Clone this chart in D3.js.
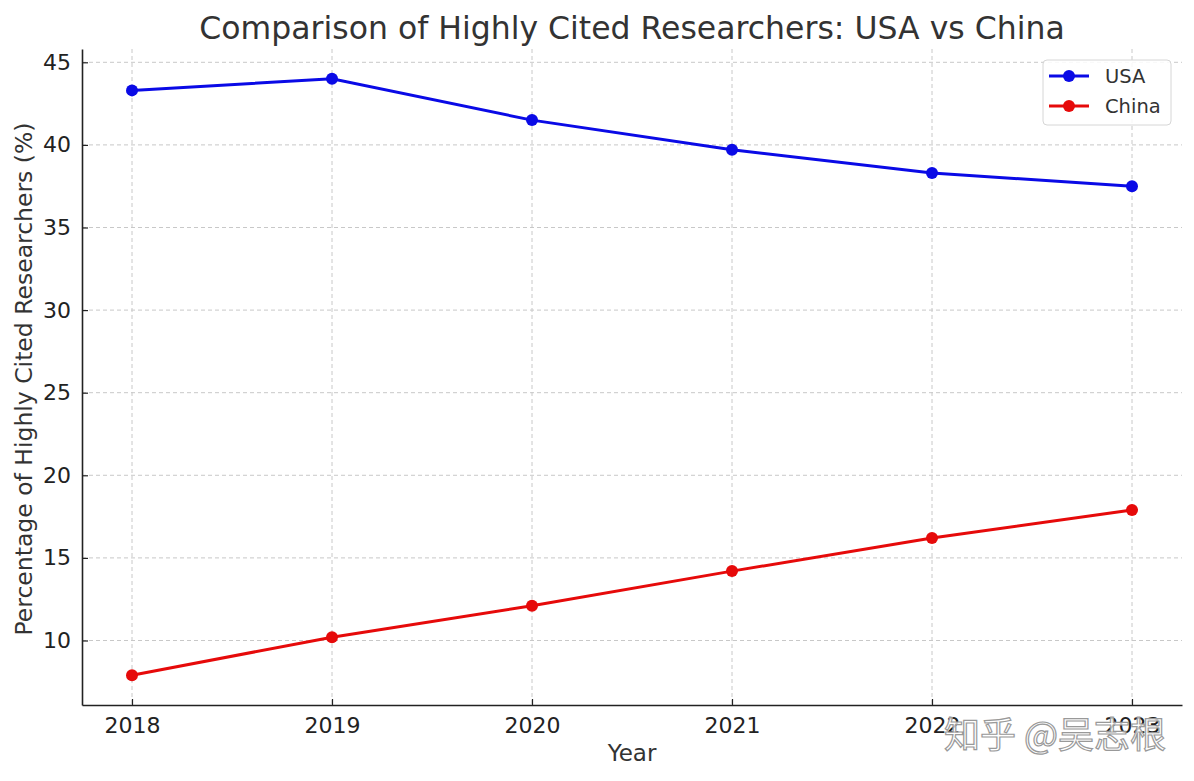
<!DOCTYPE html>
<html>
<head>
<meta charset="utf-8">
<script src="https://cdn.jsdelivr.net/npm/d3@7"></script>
<style>
  body { margin: 0; background: #fff; }
  svg text { font-family: "DejaVu Sans", sans-serif; }
</style>
</head>
<body>
<div id="chart"></div>
<script>
// data
const years = [2018, 2019, 2020, 2021, 2022, 2023];
const usaValues = [43.3, 44.0, 41.5, 39.7, 38.3, 37.5];
const chinaValues = [7.9, 10.2, 12.1, 14.2, 16.2, 17.9];
const yTicks = [10, 15, 20, 25, 30, 35, 40, 45];
const seriesNames = ["USA", "China"];
const seriesColors = ["#0a0ae6", "#e60a0a"];

const W = 1194, H = 781;
const margin = {top: 49, right: 12, bottom: 76, left: 82};
const width = W - margin.left - margin.right,
      height = H - margin.top - margin.bottom;

const svg = d3.select("#chart").append("svg")
    .attr("width", W).attr("height", H);

const g = svg.append("g")
    .attr("transform", "translate(" + margin.left + "," + margin.top + ")");

// matplotlib style 5% padding
const xPad = (years[years.length - 1] - years[0]) * 0.05;
const x = d3.scaleLinear()
    .domain([years[0] - xPad, years[years.length - 1] + xPad])
    .range([0, width]);

const allVals = usaValues.concat(chinaValues);
const yMin = d3.min(allVals), yMax = d3.max(allVals);
const yPad = (yMax - yMin) * 0.05;
const y = d3.scaleLinear()
    .domain([yMin - yPad, yMax + yPad])
    .range([height, 0]);

// grid
g.append("g").selectAll("line").data(years).join("line")
    .attr("x1", d => x(d)).attr("x2", d => x(d))
    .attr("y1", 0).attr("y2", height)
    .attr("stroke", "#c8c8c8").attr("stroke-width", 1)
    .attr("stroke-dasharray", "4,3");
g.append("g").selectAll("line").data(yTicks).join("line")
    .attr("x1", 0).attr("x2", width)
    .attr("y1", d => y(d)).attr("y2", d => y(d))
    .attr("stroke", "#c8c8c8").attr("stroke-width", 1)
    .attr("stroke-dasharray", "4,3");

// axes (ticks point inward)
const xAxis = g.append("g")
    .attr("transform", "translate(0," + height + ")")
    .call(d3.axisBottom(x).tickValues(years).tickFormat(d3.format("d"))
        .tickSizeInner(-6).tickSizeOuter(0).tickPadding(12));
const yAxis = g.append("g")
    .call(d3.axisLeft(y).tickValues(yTicks)
        .tickSizeInner(-6).tickSizeOuter(0).tickPadding(11));

[xAxis, yAxis].forEach(a => {
    a.select(".domain").attr("stroke", "#222").attr("stroke-width", 1.6);
    a.selectAll(".tick line").attr("stroke", "#222").attr("stroke-width", 1.2);
    a.selectAll(".tick text").attr("fill", "#222")
        .style("font-family", "DejaVu Sans").style("font-size", "22px");
});

// lines and markers
const line = d3.line()
    .x((d, i) => x(years[i]))
    .y(d => y(d));

[usaValues, chinaValues].forEach((vals, k) => {
    g.append("path")
        .datum(vals)
        .attr("fill", "none")
        .attr("stroke", seriesColors[k])
        .attr("stroke-width", 3)
        .attr("d", line);
    g.append("g").selectAll("circle").data(vals).join("circle")
        .attr("cx", (d, i) => x(years[i]))
        .attr("cy", d => y(d))
        .attr("r", 6)
        .attr("fill", seriesColors[k]);
});

// title and labels
svg.append("text")
    .attr("x", margin.left + width / 2).attr("y", 39)
    .attr("text-anchor", "middle")
    .attr("fill", "#333")
    .style("font-size", "31.5px")
    .text("Comparison of Highly Cited Researchers: USA vs China");

svg.append("text")
    .attr("x", margin.left + width / 2).attr("y", 761)
    .attr("text-anchor", "middle")
    .attr("fill", "#333")
    .style("font-size", "23px")
    .text("Year");

svg.append("text")
    .attr("transform", "translate(32," + (margin.top + height / 2 + 2) + ") rotate(-90)")
    .attr("text-anchor", "middle")
    .attr("fill", "#333")
    .style("font-size", "23.5px")
    .text("Percentage of Highly Cited Researchers (%)");

// legend
const legend = g.append("g")
    .attr("transform", "translate(" + (width - 139) + ",11)");
legend.append("rect")
    .attr("width", 128).attr("height", 65)
    .attr("rx", 4)
    .attr("fill", "#fff").attr("fill-opacity", 0.85)
    .attr("stroke", "#d6d6d6");
seriesNames.forEach((name, k) => {
    const ly = 16 + k * 30;
    legend.append("line")
        .attr("x1", 6).attr("x2", 46).attr("y1", ly).attr("y2", ly)
        .attr("stroke", seriesColors[k]).attr("stroke-width", 3);
    legend.append("circle")
        .attr("cx", 26).attr("cy", ly).attr("r", 6)
        .attr("fill", seriesColors[k]);
    legend.append("text")
        .attr("x", 62).attr("y", ly + 7)
        .attr("fill", "#333")
        .style("font-size", "19.5px")
        .text(name);
});

// watermark
svg.append("text")
    .attr("x", 1166).attr("y", 748)
    .attr("text-anchor", "end")
    .attr("fill", "#fff").attr("fill-opacity", 0.75)
    .attr("stroke", "#999").attr("stroke-width", 1.2)
    .style("font-family", "Noto Sans CJK SC")
    .style("font-size", "36px")
    .text("知乎 @吴志根");
</script>
</body>
</html>
